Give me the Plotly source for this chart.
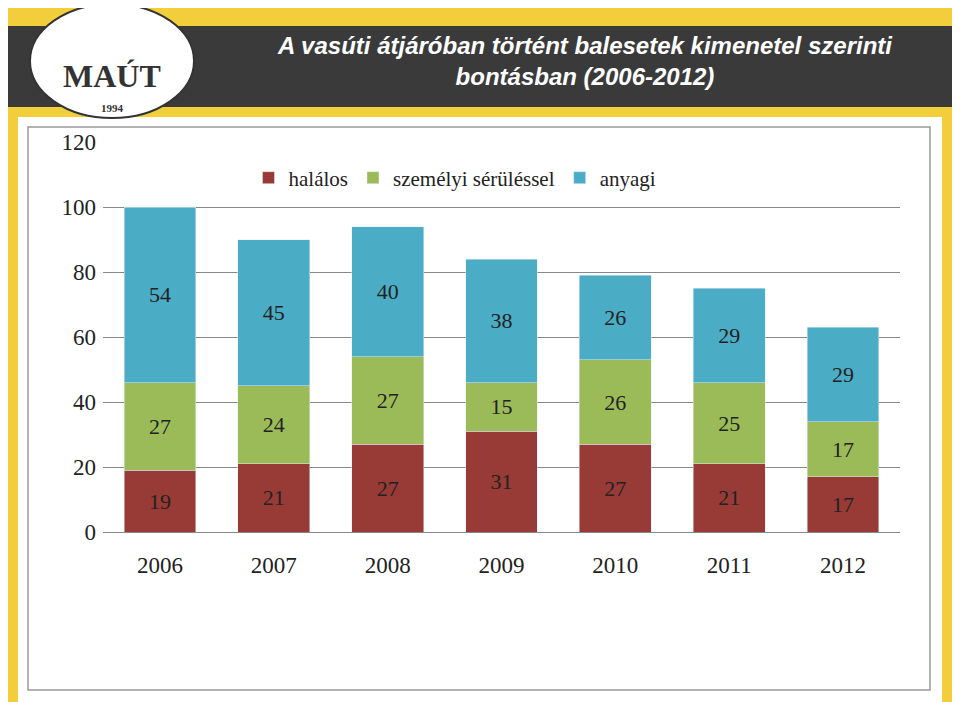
import plotly.graph_objects as go

years = ["2006", "2007", "2008", "2009", "2010", "2011", "2012"]
halalos = [19, 21, 27, 31, 27, 21, 17]
szemelyi = [27, 24, 27, 15, 26, 25, 17]
anyagi = [54, 45, 40, 38, 26, 29, 29]

W, H = 960, 702
OFF = 8  # page body margin
def px(x): return (x - OFF) / W
def py(y): return 1 - (y - OFF) / H

fig = go.Figure()
font = dict(family="Liberation Serif", size=23, color="#222")
for name, vals, col in [("halálos", halalos, "#983a36"),
                        ("személyi sérüléssel", szemelyi, "#9bbb59"),
                        ("anyagi", anyagi, "#4bacc6")]:
    fig.add_trace(go.Bar(x=years, y=vals, name=name, marker_color=col,
                         text=vals, textposition="inside", insidetextanchor="middle",
                         textfont=dict(family="Liberation Serif", size=22, color="#222")))

shapes = [
    dict(type="rect", xref="paper", yref="paper", x0=0, x1=1, y0=py(107), y1=py(26),
         fillcolor="#3a3a3a", line_width=0, layer="below"),
    dict(type="rect", xref="paper", yref="paper", x0=px(18), x1=px(942), y0=0, y1=py(117),
         fillcolor="white", line_width=0, layer="below"),
    dict(type="rect", xref="paper", yref="paper", x0=px(28), x1=px(930), y0=py(690), y1=py(127),
         fillcolor="white", line=dict(color="#999", width=1.5), layer="below"),
    dict(type="circle", xref="paper", yref="paper", x0=px(30), x1=px(194), y0=py(118), y1=py(4),
         fillcolor="white", line=dict(color="#333", width=2), layer="below"),
]
fig.update_layout(
    width=W, height=H, barmode="stack", bargap=0.37,
    margin=dict(l=0, r=0, t=0, b=0, pad=0, autoexpand=False),
    paper_bgcolor="#f2cf3a", plot_bgcolor="white",
    shapes=shapes, showlegend=True,
    legend=dict(orientation="h", x=px(455), xanchor="center", y=py(178), yanchor="middle",
                font=dict(family="Liberation Serif", size=21, color="#222"),
                bgcolor="rgba(0,0,0,0)", traceorder="normal"),
    xaxis=dict(domain=[px(103), px(900)], tickfont=font, showline=True, linecolor="#888",
               ticks="", ticklabelstandoff=12),
    yaxis=dict(domain=[py(532), py(142)], range=[0, 120], dtick=20, tickfont=font,
               gridcolor="#888", showline=False, zeroline=False, ticklabelstandoff=6),
    annotations=[
        dict(text="<b><i>A vasúti átjáróban történt balesetek kimenetel szerinti<br>bontásban (2006-2012)</i></b>",
             xref="paper", yref="paper", x=px(585), y=py(61), xanchor="center", yanchor="middle",
             showarrow=False, font=dict(family="Liberation Sans", size=24, color="white"), align="center"),
        dict(text="<b>MAÚT</b>", xref="paper", yref="paper",
             x=px(112), y=py(76), xanchor="center", yanchor="middle", showarrow=False,
             font=dict(family="Liberation Serif", size=32, color="#333")),
        dict(text="<b>1994</b>", xref="paper", yref="paper",
             x=px(112), y=py(108), xanchor="center", yanchor="middle", showarrow=False,
             font=dict(family="Liberation Serif", size=11, color="#333")),
    ],
)
fig.write_html("out.html")
